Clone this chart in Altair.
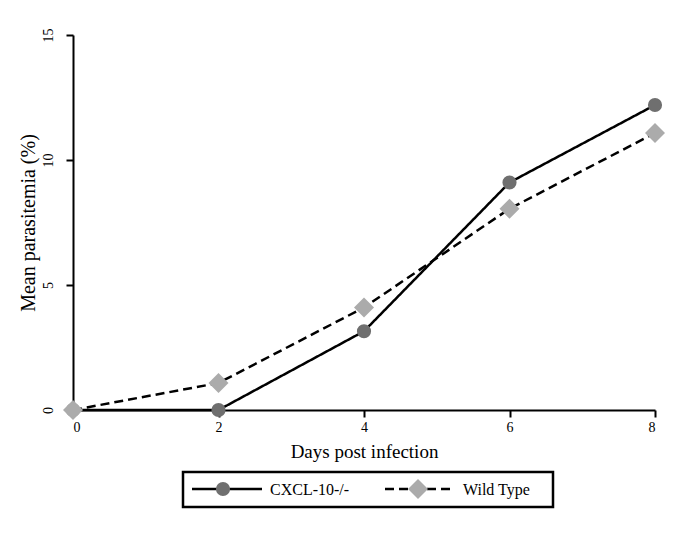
import altair as alt
import pandas as pd

days = [0, 2, 4, 6, 8]
cxcl = [0.0, 0.0, 3.15, 9.1, 12.2]
wild = [0.0, 1.08, 4.1, 8.05, 11.08]
series_names = ["CXCL-10-/-", "Wild Type"]

df = pd.DataFrame({
    "day": days * 2,
    "value": cxcl + wild,
    "series": [series_names[0]] * len(days) + [series_names[1]] * len(days),
})

FONT = "Liberation Serif"

x = alt.X("day:Q", scale=alt.Scale(domain=[0, 8], nice=False),
          axis=alt.Axis(values=[0, 2, 4, 6, 8], format="d", title="Days post infection", grid=False,
                        domainColor="black", domainWidth=2, tickColor="black", tickWidth=2,
                        tickSize=7, labelFont=FONT, labelFontSize=14, labelColor="black",
                        labelPadding=3, titleFont=FONT, titleFontSize=19, titleFontWeight="normal",
                        titleColor="black", titlePadding=8))
y = alt.Y("value:Q", scale=alt.Scale(domain=[0, 15], nice=False),
          axis=alt.Axis(values=[0, 5, 10, 15], format="d", title="Mean parasitemia (%)", grid=False,
                        domainColor="black", domainWidth=2, tickColor="black", tickWidth=2,
                        tickSize=7, labelFont=FONT, labelFontSize=14, labelColor="black",
                        labelAngle=270, labelAlign="center", labelBaseline="bottom",
                        labelPadding=11, titleFont=FONT, titleFontSize=20,
                        titleFontWeight="normal", titleColor="black", titlePadding=3))

lines = alt.Chart(df).mark_line(color="black", strokeWidth=2.5).encode(
    x=x, y=y,
    strokeDash=alt.StrokeDash("series:N", scale=alt.Scale(domain=series_names, range=[[1, 0], [9, 5]]), legend=None),
)

pts = alt.Chart(df).mark_point(filled=True, opacity=1).encode(
    x="day:Q", y="value:Q",
    shape=alt.Shape("series:N", scale=alt.Scale(domain=series_names, range=["circle", "diamond"]), legend=None),
    color=alt.Color("series:N", scale=alt.Scale(domain=series_names, range=["#6f6f6f", "#ababab"]), legend=None),
    size=alt.Size("series:N", scale=alt.Scale(domain=series_names, range=[200, 400]), legend=None),
)

one = pd.DataFrame({"a": [0]})
box = alt.Chart(one).mark_rect(fill="white", stroke="black", strokeWidth=2.5).encode(
    x=alt.value(110), x2=alt.value(480), y=alt.value(437), y2=alt.value(472))
l1 = alt.Chart(one).mark_rule(color="black", strokeWidth=2.5).encode(
    x=alt.value(119), x2=alt.value(189), y=alt.value(454))
l2 = alt.Chart(one).mark_rule(color="black", strokeWidth=2.5, strokeDash=[9, 5]).encode(
    x=alt.value(312), x2=alt.value(382), y=alt.value(454))
p1 = alt.Chart(one).mark_point(filled=True, opacity=1, size=200, shape="circle", color="#6f6f6f").encode(
    x=alt.value(150), y=alt.value(454))
p2 = alt.Chart(one).mark_point(filled=True, opacity=1, size=400, shape="diamond", color="#ababab").encode(
    x=alt.value(345), y=alt.value(454))
t1 = alt.Chart(one).mark_text(text=series_names[0], font=FONT, fontSize=16, align="left", baseline="middle", color="black").encode(
    x=alt.value(197), y=alt.value(455))
t2 = alt.Chart(one).mark_text(text=series_names[1], font=FONT, fontSize=16, align="left", baseline="middle", color="black").encode(
    x=alt.value(390), y=alt.value(455))

chart = alt.layer(lines, pts, box, l1, l2, p1, p2, t1, t2).properties(
    width=582, height=375,
    padding={"left": 65, "top": 27, "right": 22, "bottom": 100},
    autosize=alt.AutoSizeParams(type="none"),
    background="white",
).configure_view(stroke=None)

chart.save("out.html", embed_options={"renderer": "svg", "actions": False})
